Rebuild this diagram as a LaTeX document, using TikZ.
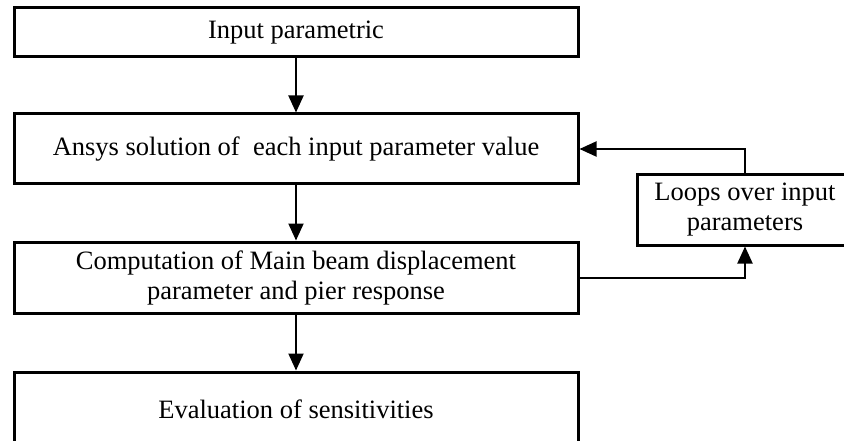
\documentclass[tikz,border=0pt]{standalone}
\usepackage{fontspec}
\setmainfont{Liberation Serif}
\usetikzlibrary{arrows.meta}
\begin{document}
\begin{tikzpicture}[x=1pt,y=-1pt,
  box/.style={draw,line width=3pt,minimum width=564pt,inner sep=0pt,align=center,
    font=\fontsize{26.5}{30}\selectfont},
  conn/.style={line width=2pt,-{Triangle[length=17pt,width=15pt]}}]
\useasboundingbox (0,0) rectangle (844,441);
\clip (0,0) rectangle (844,441);
\node[box,minimum height=49pt] (inp) at (296,32.5) {Input parametric};
\node[box,minimum height=70pt] (ans) at (296,149) {Ansys solution of \ each input parameter value};
\node[box,minimum height=71pt] (comp) at (296,277.5) {Computation of Main beam displacement\\parameter and pier response};
\node[box,minimum height=74pt] (eval) at (296,409) {Evaluation of sensitivities};
\node[box,minimum height=70pt,minimum width=216pt] (loop) at (745,210) {Loops over input\\parameters};
\draw[conn] (inp.south) -- (ans.north);
\draw[conn] (ans.south) -- (comp.north);
\draw[conn] (comp.south) -- (eval.north);
\draw[conn] (loop.north) |- (ans.east);
\draw[conn] (comp.east) -| (loop.south);
\end{tikzpicture}
\end{document}
